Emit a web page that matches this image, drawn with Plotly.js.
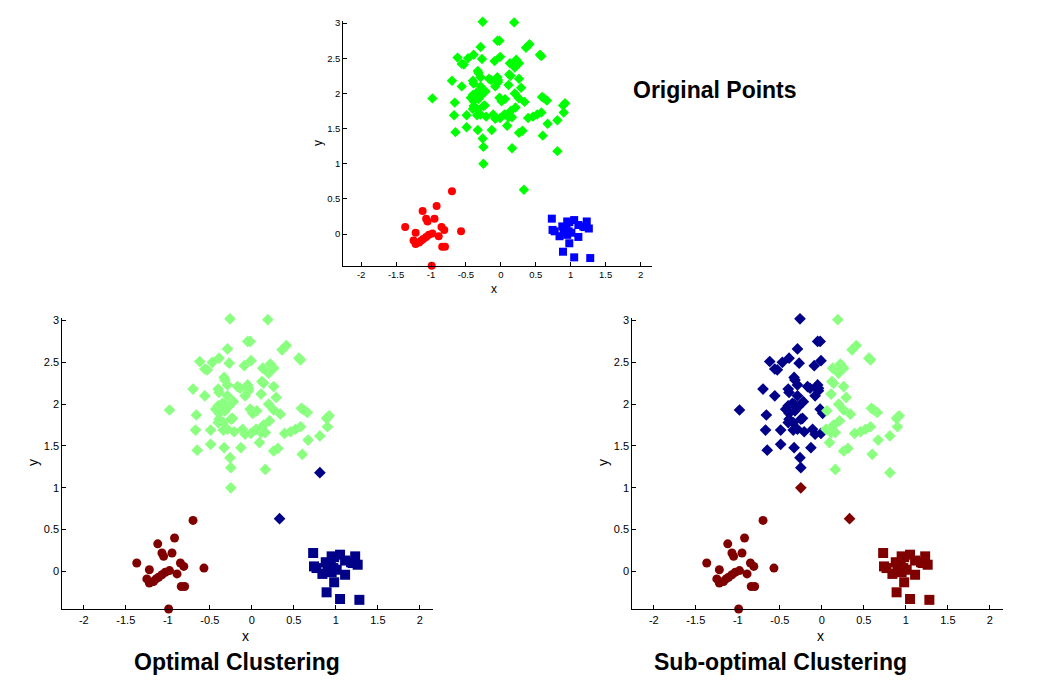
<!DOCTYPE html>
<html>
<head>
<meta charset="utf-8">
<script src="https://cdn.plot.ly/plotly-3.0.1.min.js"></script>
<style>html,body{margin:0;padding:0;background:#fff;}#chart{width:1050px;height:683px;}</style>
</head>
<body>
<div id="chart"></div>
<script>
// ---- Data ----
// Class 1: red circles
const redX = [-0.70,-1.12,-0.92,-1.07,-1.05,-0.95,-1.37,-1.22,-0.85,-0.81,-0.57,-0.98,-1.03,-1.07,-1.11,-1.14,-1.25,-1.22,-1.17,-0.89,-0.84,-0.80,-0.99];
const redY = [0.61,0.33,0.40,0.22,0.18,0.22,0.10,0.02,0.10,0.06,0.04,0.01,-0.01,-0.04,-0.07,-0.09,-0.09,-0.14,-0.12,-0.03,-0.18,-0.18,-0.45];
// Class 3: blue squares
const blueX = [0.73,0.74,0.77,0.84,0.88,0.95,0.98,1.05,0.90,0.94,0.97,1.01,0.95,0.98,0.89,1.11,1.11,1.18,1.23,1.20,1.26,1.05,1.28];
const blueY = [0.22,0.06,0.04,-0.03,0.11,0.18,0.17,0.20,0.02,0.09,0.04,0.02,-0.01,-0.13,-0.25,0.13,-0.04,0.11,0.18,0.10,0.08,-0.33,-0.34];
// Class 2: green diamonds, left part (sub-optimal cluster "blue")
const greenAX = [-0.26,-0.05,-0.02,-0.29,-0.62,-0.47,-0.27,-0.39,-0.01,-0.09,-0.56,-0.53,-0.33,-0.32,-0.29,-0.17,-0.14,-0.05,-0.04,-0.70,-0.40,-0.39,-0.56,-0.29,-0.08,-0.04,-0.35,-0.33,-0.22,-0.43,-0.40,-0.28,-0.02,0.01,-0.98,-0.32,-0.66,-0.39,-0.39,-0.23,-0.25,-0.40,-0.34,-0.67,-0.49,-0.34,-0.29,-0.21,-0.11,-0.08,-0.01,-0.49,-0.33,-0.13,-0.65,-0.26,-0.25];
const greenAY = [3.02,2.75,2.75,2.66,2.51,2.50,2.49,2.55,2.52,2.46,2.42,2.41,2.32,2.29,2.23,2.21,2.19,2.23,2.19,2.18,2.18,2.14,2.10,2.10,2.10,2.16,2.01,2.00,2.03,1.94,1.98,1.97,1.94,1.89,1.93,1.92,1.87,1.89,1.82,1.83,1.82,1.78,1.78,1.69,1.69,1.69,1.70,1.67,1.70,1.64,1.65,1.52,1.48,1.48,1.45,1.36,1.24];
// Class 2: green diamonds, right part (sub-optimal cluster "green")
const greenBX = [0.19,0.41,0.36,0.56,0.58,0.13,0.22,0.26,0.20,0.12,0.14,0.26,0.11,0.29,0.20,0.06,0.59,0.62,0.66,0.26,0.34,0.21,0.89,0.92,0.14,0.05,0.12,0.16,0.11,0.39,0.46,0.52,0.58,0.90,0.81,0.67,0.09,0.26,0.31,0.60,0.16];
const greenBY = [3.01,2.70,2.65,2.55,2.53,2.43,2.48,2.43,2.37,2.27,2.25,2.21,2.12,2.08,2.00,1.92,1.95,1.93,1.90,1.93,1.88,1.80,1.83,1.86,1.75,1.70,1.70,1.66,1.66,1.65,1.67,1.70,1.73,1.73,1.62,1.57,1.54,1.44,1.47,1.40,1.22];
// Class 2: green diamonds lying between the groups
const greenOutX = [0.81,-0.25,0.33];
const greenOutY = [1.18,1.00,0.63];
const outOptimal = ['blue','green','blue'];
const outSubOptimal = ['green','red','red'];

const xTicks = [-2,-1.5,-1,-0.5,0,0.5,1,1.5,2];
const xTickText = ['-2','-1.5','-1','-0.5','0','0.5','1','1.5','2'];
const yTicks = [0,0.5,1,1.5,2,2.5,3];
const yTickText = ['0','0.5','1','1.5','2','2.5','3'];

// ---- Styling ----
const C = {
  orig: {red:'#ff0000', green:'#00ff00', blue:'#0000ff'},
  clus: {red:'#800000', green:'#8aff80', blue:'#000088'}
};

function pick(arr, labels, want){ return arr.filter((v,i)=>labels[i]===want); }

function tr(x, y, color, symbol, size, ax){
  return {type:'scatter', mode:'markers', x:x, y:y, xaxis:'x'+ax, yaxis:'y'+ax, cliponaxis:false,
    marker:{color:color, symbol:symbol, size:size, line:{width:0}}, hoverinfo:'x+y'};
}

const traces = [];
// Top: original points
traces.push(tr(greenAX.concat(greenBX, greenOutX), greenAY.concat(greenBY, greenOutY), C.orig.green, 'diamond', 8, ''));
traces.push(tr(redX, redY, C.orig.red, 'circle', 8, ''));
traces.push(tr(blueX, blueY, C.orig.blue, 'square', 8, ''));
// Bottom-left: optimal clustering
traces.push(tr(greenAX.concat(greenBX, pick(greenOutX,outOptimal,'green')), greenAY.concat(greenBY, pick(greenOutY,outOptimal,'green')), C.clus.green, 'diamond', 9, '2'));
traces.push(tr(pick(greenOutX,outOptimal,'blue'), pick(greenOutY,outOptimal,'blue'), C.clus.blue, 'diamond', 9, '2'));
traces.push(tr(redX, redY, C.clus.red, 'circle', 9, '2'));
traces.push(tr(blueX, blueY, C.clus.blue, 'square', 10, '2'));
// Bottom-right: sub-optimal clustering
traces.push(tr(greenAX, greenAY, C.clus.blue, 'diamond', 9, '3'));
traces.push(tr(greenBX.concat(pick(greenOutX,outSubOptimal,'green')), greenBY.concat(pick(greenOutY,outSubOptimal,'green')), C.clus.green, 'diamond', 9, '3'));
traces.push(tr(pick(greenOutX,outSubOptimal,'red'), pick(greenOutY,outSubOptimal,'red'), C.clus.red, 'diamond', 9, '3'));
traces.push(tr(redX, redY, C.clus.red, 'circle', 9, '3'));
traces.push(tr(blueX, blueY, C.clus.red, 'square', 10, '3'));

function xa(domain, anchor, fs){
  return {domain:domain, anchor:anchor, range:[-2.256,2.16], showgrid:false, zeroline:false,
    showline:true, linecolor:'#000', linewidth:1, ticks:'inside', ticklen:4, tickcolor:'#000',
    tickvals:xTicks, ticktext:xTickText, tickfont:{family:'Liberation Sans, Arial, sans-serif', size:fs, color:'#000'}, fixedrange:true};
}
function ya(domain, anchor, fs){
  return {domain:domain, anchor:anchor, range:[-0.453,3.03], showgrid:false, zeroline:false,
    showline:true, linecolor:'#000', linewidth:1, ticks:'inside', ticklen:4, tickcolor:'#000',
    tickvals:yTicks, ticktext:yTickText, tickfont:{family:'Liberation Sans, Arial, sans-serif', size:fs, color:'#000'}, fixedrange:true};
}

const W = 1050, H = 683;
const px = v => v / W, py = v => 1 - v / H;

const layout = {
  width:W, height:H, margin:{l:0,r:0,t:0,b:0}, paper_bgcolor:'#fff', plot_bgcolor:'#fff',
  showlegend:false, font:{family:'Liberation Sans, Arial, sans-serif', color:'#000'},
  xaxis: xa([px(343.3), px(651.7)], 'y', 9.5),
  yaxis: ya([py(266), py(21)], 'x', 9.5),
  xaxis2: xa([px(62.3), px(433.3)], 'y2', 11),
  yaxis2: ya([py(609.3), py(318)], 'x2', 11),
  xaxis3: xa([px(632.3), px(1003.3)], 'y3', 11),
  yaxis3: ya([py(609.3), py(318)], 'x3', 11),
  annotations: [
    {text:'<b>Original Points</b>', xref:'paper', yref:'paper', x:px(714.5), y:py(90), showarrow:false, font:{size:23}, xanchor:'center', yanchor:'middle'},
    {text:'<b>Optimal Clustering</b>', xref:'paper', yref:'paper', x:px(236.5), y:py(662), showarrow:false, font:{size:23}, xanchor:'center', yanchor:'middle'},
    {text:'<b>Sub-optimal Clustering</b>', xref:'paper', yref:'paper', x:px(780), y:py(662), showarrow:false, font:{size:23}, xanchor:'center', yanchor:'middle'},
    {text:'x', xref:'paper', yref:'paper', x:px(494), y:py(289), showarrow:false, font:{size:12}, xanchor:'center', yanchor:'middle'},
    {text:'y', xref:'paper', yref:'paper', x:px(318), y:py(143), showarrow:false, font:{size:12}, textangle:-90, xanchor:'center', yanchor:'middle'},
    {text:'x', xref:'paper', yref:'paper', x:px(245), y:py(636), showarrow:false, font:{size:14}, xanchor:'center', yanchor:'middle'},
    {text:'y', xref:'paper', yref:'paper', x:px(33), y:py(463), showarrow:false, font:{size:14}, textangle:-90, xanchor:'center', yanchor:'middle'},
    {text:'x', xref:'paper', yref:'paper', x:px(820), y:py(636), showarrow:false, font:{size:14}, xanchor:'center', yanchor:'middle'},
    {text:'y', xref:'paper', yref:'paper', x:px(603), y:py(463), showarrow:false, font:{size:14}, textangle:-90, xanchor:'center', yanchor:'middle'}
  ]
};

Plotly.newPlot('chart', traces, layout, {displayModeBar:false, staticPlot:true});
</script>
</body>
</html>
